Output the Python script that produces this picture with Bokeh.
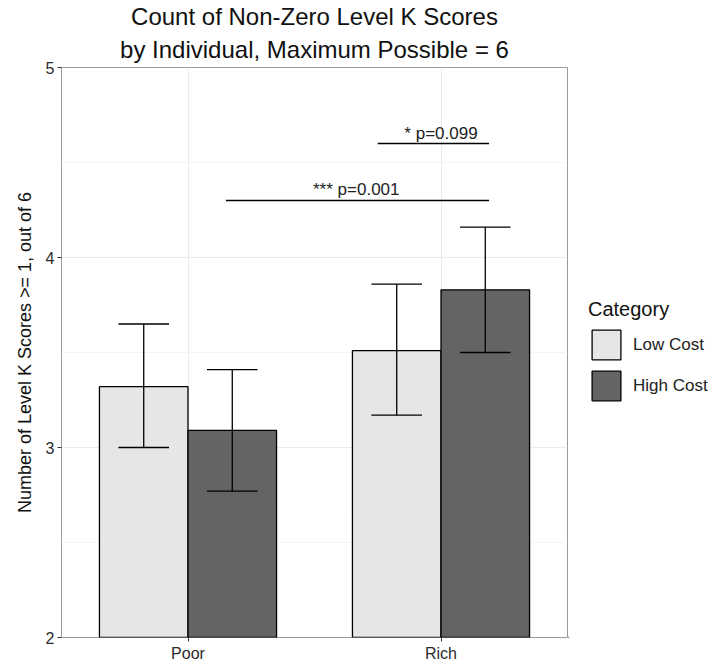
from bokeh.plotting import figure
from bokeh.layouts import row
from bokeh.models import Range1d, FixedTicker, Title, Legend, LegendItem, ColumnDataSource
from bokeh.core.properties import value
from bokeh.embed import file_html
from bokeh.resources import INLINE

# ---- data ----
categories = ["Poor", "Rich"]
series = ["Low Cost", "High Cost"]
low_cost = [3.32, 3.51]
high_cost = [3.09, 3.83]
low_cost_lower = [3.00, 3.17]
low_cost_upper = [3.65, 3.86]
high_cost_lower = [2.77, 3.50]
high_cost_upper = [3.41, 4.16]
y_ticks = [2, 3, 4, 5]
y_minor = [2.5, 3.5, 4.5]
sig_labels = ["* p=0.099", "*** p=0.001"]
sig_y = [4.6, 4.3]
sig_x_start = [1.75, 1.15]
sig_x_end = [2.19, 2.19]
sig_label_x = [2.0, 1.665]
sig_label_y = [4.655, 4.36]

FONT = "Liberation Sans"
colors = ["#E8E6E5", "#646464"]
bar_w = 0.35
cap = 0.1

p = figure(width=568, height=665, output_backend="svg", toolbar_location=None,
           x_range=Range1d(0.5, 2.5), y_range=Range1d(2, 5),
           min_border_left=61, min_border_right=1, min_border_top=67, min_border_bottom=28)
p.background_fill_color = "white"
p.border_fill_color = "white"
p.outline_line_color = "#9A9A9A"
p.outline_line_width = 1

pos = [i + 1 for i in range(len(categories))]

for k, (vals, lo, hi) in enumerate([(low_cost, low_cost_lower, low_cost_upper),
                                     (high_cost, high_cost_lower, high_cost_upper)]):
    off = (k - 0.5) * bar_w
    xs = [x + off for x in pos]
    src = ColumnDataSource(dict(x=xs, top=vals, lo=lo, hi=hi,
                                cl=[x - cap for x in xs], cr=[x + cap for x in xs]))
    p.vbar(x="x", top="top", bottom=0, width=bar_w, source=src,
           fill_color=colors[k], line_color="black", line_width=1.3)
    p.segment(x0="x", y0="lo", x1="x", y1="hi", source=src, line_color="black", line_width=1.3)
    p.segment(x0="cl", y0="hi", x1="cr", y1="hi", source=src, line_color="black", line_width=1.3)
    p.segment(x0="cl", y0="lo", x1="cr", y1="lo", source=src, line_color="black", line_width=1.3)

# significance brackets
sig_src = ColumnDataSource(dict(x0=sig_x_start, x1=sig_x_end, y=sig_y,
                                tx=sig_label_x, ty=sig_label_y, t=sig_labels))
p.segment(x0="x0", y0="y", x1="x1", y1="y", source=sig_src, line_color="black", line_width=1.3)
p.text(x="tx", y="ty", text="t", source=sig_src, text_align="center",
       text_baseline="alphabetic", text_font=value(FONT), text_font_size="17px",
       text_color="#222222")

# axes
p.yaxis.ticker = FixedTicker(ticks=y_ticks, minor_ticks=y_minor)
p.xaxis.ticker = FixedTicker(ticks=pos)
p.xaxis.major_label_overrides = {x: c for x, c in zip(pos, categories)}
for ax in (p.xaxis, p.yaxis):
    ax.axis_line_color = None
    ax.major_tick_line_color = "#333333"
    ax.major_tick_in = 0
    ax.major_tick_out = 4
    ax.minor_tick_line_color = None
    ax.major_label_text_font = FONT
    ax.major_label_text_font_size = "16px"
    ax.major_label_text_color = "#2b2b2b"
    ax.major_label_standoff = 3
p.yaxis.axis_label = "Number of Level K Scores >= 1, out of 6"
p.yaxis.axis_label_text_font = FONT
p.yaxis.axis_label_text_font_size = "18px"
p.yaxis.axis_label_text_font_style = "normal"
p.yaxis.axis_label_text_color = "#111111"
p.yaxis.axis_label_standoff = 8

p.xgrid.grid_line_color = "#EBEBEB"
p.ygrid.grid_line_color = "#EBEBEB"
p.ygrid.minor_grid_line_color = "#F4F4F4"
p.xgrid.grid_line_width = 1
p.ygrid.grid_line_width = 1

# titles
t2 = Title(text="by Individual, Maximum Possible = 6", align="center",
           text_font=FONT, text_font_size="24px", text_font_style="normal",
           text_color="#111111", standoff=9, text_line_height=1.0)
t1 = Title(text="Count of Non-Zero Level K Scores", align="center",
           text_font=FONT, text_font_size="24px", text_font_style="normal",
           text_color="#111111", standoff=0, text_line_height=1.0)
p.add_layout(t2, "above")
p.add_layout(t1, "above")

# legend panel (separate figure to the right of the plot)
lp = figure(width=148, height=665, output_backend="svg", toolbar_location=None,
            x_range=Range1d(0, 1), y_range=Range1d(0, 1),
            x_axis_location=None, y_axis_location=None,
            min_border_left=0, min_border_right=0, min_border_top=0, min_border_bottom=0)
lp.outline_line_color = None
lp.grid.visible = False
lp.background_fill_color = "white"
lp.border_fill_color = "white"
# legend keys: off-range proxy bars carrying the two series' styles
proxies = [lp.vbar(x=[-10], top=[-10], bottom=-11, width=0.1, fill_color=c,
                   line_color="black", line_width=1.3) for c in colors]
legend = Legend(items=[LegendItem(label=s, renderers=[r]) for s, r in zip(series, proxies)],
                location=(20, 233), title="Category",
                title_text_font=FONT, title_text_font_size="20px", title_text_font_style="normal",
                title_standoff=5, label_text_font=FONT, label_text_font_size="17px",
                label_text_color="#222222", title_text_color="#111111",
                label_standoff=9, glyph_width=36, glyph_height=37, spacing=4,
                padding=0, margin=0, border_line_color=None, background_fill_alpha=0)
lp.add_layout(legend, "center")

layout = row(p, lp, spacing=0)
open("out.html", "w").write(file_html(layout, INLINE))
